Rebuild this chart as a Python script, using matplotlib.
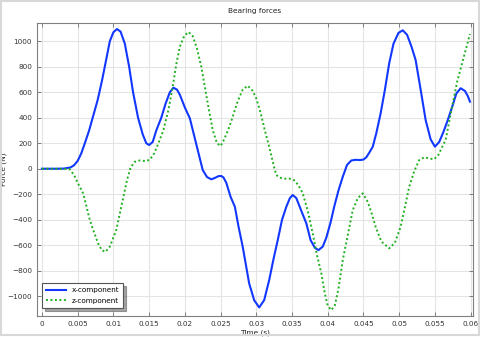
import matplotlib.pyplot as plt
import numpy as np
from matplotlib.ticker import FuncFormatter
from matplotlib.patches import Rectangle

# x-component
t_x = [0.0, 0.002, 0.003, 0.004, 0.0045, 0.005, 0.0055, 0.0060, 0.0066, 0.0072, 0.0078, 0.0084,
       0.0089, 0.0095, 0.0100, 0.0105, 0.0110, 0.0116, 0.0122, 0.01275, 0.01345, 0.0141, 0.0146,
       0.0150, 0.0155, 0.0160, 0.0167, 0.0173, 0.0179, 0.0184, 0.0189, 0.0193, 0.0200, 0.0207,
       0.0218, 0.0225, 0.0231, 0.0237, 0.0242, 0.0247, 0.0251, 0.0254, 0.0258, 0.0264, 0.0270,
       0.0275, 0.0281, 0.0290, 0.0297, 0.0304, 0.0311, 0.0318, 0.0324, 0.0330, 0.0336, 0.0342,
       0.0347, 0.0351, 0.0356, 0.0363, 0.0370, 0.0376, 0.0382, 0.0387, 0.0393, 0.0398, 0.0404,
       0.0409, 0.0415, 0.0421, 0.0427, 0.0433, 0.0439, 0.0445, 0.0450, 0.0454, 0.0458, 0.0463,
       0.0468, 0.0474, 0.0480, 0.0486, 0.0492, 0.0499, 0.0505, 0.0511, 0.0517, 0.0523, 0.0530,
       0.0537, 0.0544, 0.0550, 0.0556, 0.0562, 0.0568, 0.0575, 0.0580, 0.0586, 0.0592, 0.0596,
       0.0599]
f_x = [0, 0, 1, 10, 28, 62, 120, 200, 300, 420, 540, 690,
       830, 1000, 1070, 1095, 1075, 980, 800, 600, 400, 270, 200,
       186, 210, 300, 400, 510, 600, 635, 620, 580, 480, 395,
       147, -10, -65, -83, -72, -58, -57, -68, -110, -220, -298,
       -450, -612, -899, -1030, -1087, -1030, -873, -710, -559, -400, -298,
       -230, -206, -230, -330, -428, -560, -620, -638, -610, -540, -420,
       -298, -170, -63, 30, 65, 70, 68, 72, 90, 125, 173,
       280, 434, 620, 827, 980, 1065, 1085, 1050, 960, 852, 620,
       382, 230, 173, 210, 290, 382, 500, 590, 631, 610, 570,
       526]

# z-component
t_z = [0.0, 0.003, 0.0039, 0.0045, 0.005, 0.00577, 0.0067, 0.0073, 0.00786, 0.0084, 0.0089, 0.0095,
       0.0104, 0.0109, 0.0114, 0.0119, 0.0124, 0.0130, 0.0137, 0.0145, 0.0151, 0.0157, 0.0163,
       0.0170, 0.0177, 0.0183, 0.0188, 0.0193, 0.0199, 0.0205, 0.0211, 0.0217, 0.0223, 0.0232,
       0.0239, 0.0245, 0.0250, 0.0255, 0.0261, 0.0267, 0.0274, 0.0281, 0.0288, 0.0295, 0.0300,
       0.0305, 0.0312, 0.0318, 0.0325, 0.0328, 0.0333, 0.0340, 0.0347, 0.0353, 0.0359, 0.0365,
       0.0372, 0.0379, 0.0385, 0.0391, 0.0396, 0.0400, 0.0405, 0.0410, 0.0415, 0.0421, 0.0428,
       0.0435, 0.0442, 0.0449, 0.0456, 0.0462, 0.0467, 0.0475, 0.0486, 0.0494, 0.0502, 0.0508,
       0.0514, 0.0521, 0.0528, 0.0535, 0.0542, 0.0549, 0.0555, 0.0560, 0.0565, 0.0574, 0.0581,
       0.0588, 0.0594, 0.0599]
f_z = [0, 0, -5, -50, -110, -193, -402, -500, -585, -640, -651, -610,
       -481, -350, -220, -90, 10, 55, 65, 60, 70, 120, 200,
       303, 460, 643, 820, 957, 1040, 1072, 1040, 940, 800, 513,
       303, 200, 178, 230, 310, 408, 530, 620, 651, 610, 550,
       460, 300, 173, 10, -49, -70, -78, -78, -90, -130, -193,
       -330, -507, -680, -820, -980, -1075, -1108, -1070, -940, -716, -520,
       -324, -230, -193, -260, -360, -455, -570, -624, -580, -455, -300,
       -141, -20, 68, 90, 80, 75, 110, 170, 225, 486, 680,
       827, 950, 1056]

xticks = np.arange(0, 0.0601, 0.005)
yticks = np.arange(-1000, 1001, 200)

fig = plt.figure(figsize=(4.8, 3.37), dpi=100)
fig.patches.append(Rectangle((0.003, 0.006), 0.994, 0.99, transform=fig.transFigure,
                             fill=False, edgecolor='#d8d8d8', linewidth=1.5))
ax = fig.add_axes([0.077, 0.062, 0.908, 0.870])

ax.plot(t_x, f_x, color='#1238ff', linewidth=1.5, label='x-component')
ax.plot(t_z, f_z, color='#20b020', linewidth=1.4, linestyle=(0, (1, 1.3)), label='z-component')

ax.set_xlim(-0.0007, 0.0603)
ax.set_ylim(-1155, 1143)
ax.set_xticks(xticks)
ax.set_yticks(yticks)
ax.xaxis.set_major_formatter(FuncFormatter(lambda v, p: '%g' % round(v, 4)))
ax.grid(True, color='#e4e4e4', linewidth=0.8)
ax.set_axisbelow(True)
ax.tick_params(direction='in', length=3, width=0.6, colors='#707070', labelcolor='#333333',
               labelsize=5.2, top=True, right=True, labeltop=False, labelright=False)
for s in ax.spines.values():
    s.set_color('#808080')
    s.set_linewidth(0.8)

ax.set_title('Bearing forces', fontsize=5.3, color='#222222', pad=7)
ax.set_xlabel('Time (s)', fontsize=5.3, color='#222222')
ax.set_ylabel('Force (N)', fontsize=5.3, color='#222222')
ax.xaxis.set_label_coords(0.5, -0.045)
ax.yaxis.set_label_coords(-0.068, 0.5)

leg = ax.legend(loc='lower left', fontsize=5.2, fancybox=False, shadow=True,
                edgecolor='#555555', handlelength=2.8, handletextpad=0.7,
                borderpad=0.6, labelspacing=0.6, bbox_to_anchor=(0.003, 0.015))
leg.get_frame().set_linewidth(0.8)

fig.savefig('out.png', dpi=100)
